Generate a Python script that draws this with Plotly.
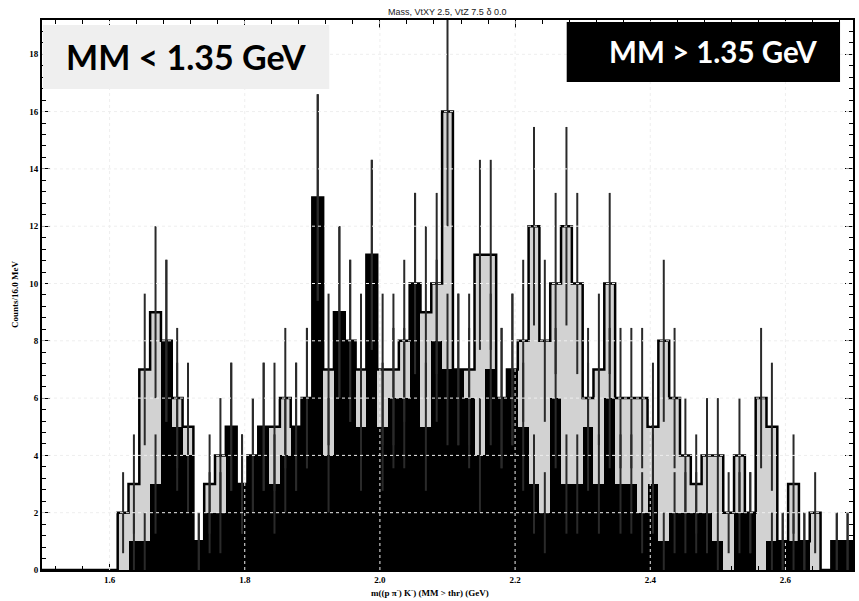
import numpy as np
import plotly.graph_objects as go

# ---- data ----
bin_low = 1.5
bin_width = 0.016
gray_counts = [0, 0, 0, 0, 0, 0, 0, 2, 3, 7,
               9, 8, 6, 5, 1, 3, 4, 5, 3, 4,
               5, 5, 6, 5, 6, 13, 7, 9, 8, 7,
               11, 7, 7, 8, 10, 9, 10, 16, 7, 7,
               11, 11, 6, 7, 8, 12, 8, 10, 12, 10,
               6, 7, 10, 6, 6, 6, 5, 8, 6, 4,
               3, 4, 4, 2, 4, 2, 6, 5, 1, 3,
               1, 2, 0, 1, 1]
black_counts = [0, 0, 0, 0, 0, 0, 0, 0, 1, 1,
                3, 8, 5, 4, 1, 2, 2, 5, 3, 4,
                5, 3, 4, 5, 6, 13, 4, 9, 8, 5,
                11, 5, 6, 6, 10, 5, 8, 7, 7, 6,
                4, 7, 6, 7, 5, 3, 2, 6, 3, 3,
                5, 3, 6, 3, 3, 2, 3, 1, 2, 2,
                2, 2, 1, 0, 2, 2, 0, 1, 1, 1,
                1, 0, 0, 1, 1]
x_tick_vals = [1.6, 1.8, 2.0, 2.2, 2.4, 2.6]
x_tick_text = ["1.6", "1.8", "2.0", "2.2", "2.4", "2.6"]
y_tick_vals = [0, 2, 4, 6, 8, 10, 12, 14, 16, 18]
y_tick_text = [str(v) for v in y_tick_vals]
title_text = "Mass, VtXY 2.5, VtZ 7.5 \u03b4 0.0"
x_title = "m((p \u03c0<sup>-</sup>) K<sup>-</sup>) (MM > thr) (GeV)"
y_title = "Counts/16.0 MeV"
label_low = "MM < 1.35 GeV"
label_high = "MM > 1.35 GeV"

n = len(gray_counts)
edges = bin_low + bin_width * np.arange(n + 1)
centers = bin_low + bin_width * (np.arange(n) + 0.5)
g = np.array(gray_counts, dtype=float)
b = np.array(black_counts, dtype=float)

W, H = 859, 601
L, R, T, B = 42, 4, 20, 31
pw, ph = W - L - R, H - T - B


def px(xp):
    return (xp - L) / pw


def py(yp):
    return (H - B - yp) / ph


fig = go.Figure()

fig.add_trace(go.Bar(x=centers, y=g, width=bin_width,
                     marker=dict(color="#d2d2d2", line=dict(width=0)),
                     hoverinfo="skip"))
# outline of gray histogram
step_x = np.concatenate([edges[:-1], [edges[-1]]])
step_y = np.concatenate([g, [g[-1]]])
fig.add_trace(go.Scatter(x=step_x, y=step_y, mode="lines",
                         line=dict(shape="hv", color="black", width=2.5),
                         hoverinfo="skip"))
fig.add_trace(go.Bar(x=centers, y=b, width=bin_width,
                     marker=dict(color="black", line=dict(width=0)),
                     hoverinfo="skip"))

for arr in (g, b):
    m = arr > 0
    fig.add_trace(go.Scatter(x=centers[m], y=arr[m], mode="markers",
                             marker=dict(size=1, color="rgba(0,0,0,0)"),
                             error_y=dict(type="data", array=np.sqrt(arr[m]),
                                          visible=True, width=0, thickness=2,
                                          color="#2a2a2a"),
                             hoverinfo="skip"))

shapes = []
for yv in y_tick_vals[1:]:
    shapes.append(dict(type="line", xref="paper", yref="y", x0=0, x1=1,
                       y0=yv, y1=yv, layer="above",
                       line=dict(color="#eeeeee", width=1, dash="dot")))
for xv in x_tick_vals:
    shapes.append(dict(type="line", xref="x", yref="paper", x0=xv, x1=xv,
                       y0=0, y1=1, layer="above",
                       line=dict(color="#eeeeee", width=1, dash="dot")))
# label boxes
shapes.append(dict(type="rect", xref="paper", yref="paper",
                   x0=px(43), x1=px(330), y0=py(89), y1=py(25), layer="above",
                   fillcolor="#efefef", line=dict(width=0)))
shapes.append(dict(type="rect", xref="paper", yref="paper",
                   x0=px(568), x1=px(842), y0=py(82), y1=py(22), layer="above",
                   fillcolor="black", line=dict(width=0)))

tick_font = dict(family="Liberation Serif", size=9, color="black", weight="bold")

annotations = [
    dict(text=label_low, xref="paper", yref="paper", x=px(186), y=py(57),
         xanchor="center", yanchor="middle", showarrow=False,
         font=dict(family="Lato", size=34, color="black", weight="bold")),
    dict(text=label_high, xref="paper", yref="paper", x=px(715), y=py(51),
         xanchor="center", yanchor="middle", showarrow=False,
         font=dict(family="Lato", size=29.5, color="white", weight="bold")),
    dict(text=title_text, xref="paper", yref="paper", x=px(448), y=py(12),
         xanchor="center", yanchor="middle", showarrow=False,
         font=dict(family="Liberation Sans", size=9, color="#222")),
    dict(text=x_title, xref="paper", yref="paper", x=px(431), y=py(592),
         xanchor="center", yanchor="middle", showarrow=False,
         font=dict(family="Liberation Serif", size=9, color="black", weight="bold")),
    dict(text=y_title, xref="paper", yref="paper", x=px(15), y=py(294),
         xanchor="center", yanchor="middle", showarrow=False, textangle=-90,
         font=dict(family="Liberation Serif", size=9, color="black", weight="bold")),
]

fig.update_layout(
    width=W, height=H,
    margin=dict(l=L, r=R, t=T, b=B, pad=0),
    paper_bgcolor="white", plot_bgcolor="white",
    barmode="overlay", bargap=0, showlegend=False,
    shapes=shapes, annotations=annotations,
    xaxis=dict(range=[bin_low, bin_low + n * bin_width],
               tickvals=x_tick_vals, ticktext=x_tick_text,
               ticks="inside", ticklen=8, tickwidth=1, tickcolor="black",
               showline=True, linecolor="black", linewidth=2, mirror="ticks",
               showgrid=False, zeroline=False, tickfont=tick_font,
               minor=dict(tick0=1.52, dtick=0.04, ticks="inside", ticklen=4,
                          tickcolor="black", showgrid=False)),
    yaxis=dict(range=[0, (H - B - T) / 28.65],
               tickvals=y_tick_vals, ticktext=y_tick_text,
               ticks="inside", ticklen=8, tickwidth=1, tickcolor="black",
               showline=True, linecolor="black", linewidth=2, mirror="ticks",
               showgrid=False, zeroline=False, tickfont=tick_font,
               minor=dict(tick0=0, dtick=0.4, ticks="inside", ticklen=4,
                          tickcolor="black", showgrid=False)),
)

fig.write_html("out.html")
